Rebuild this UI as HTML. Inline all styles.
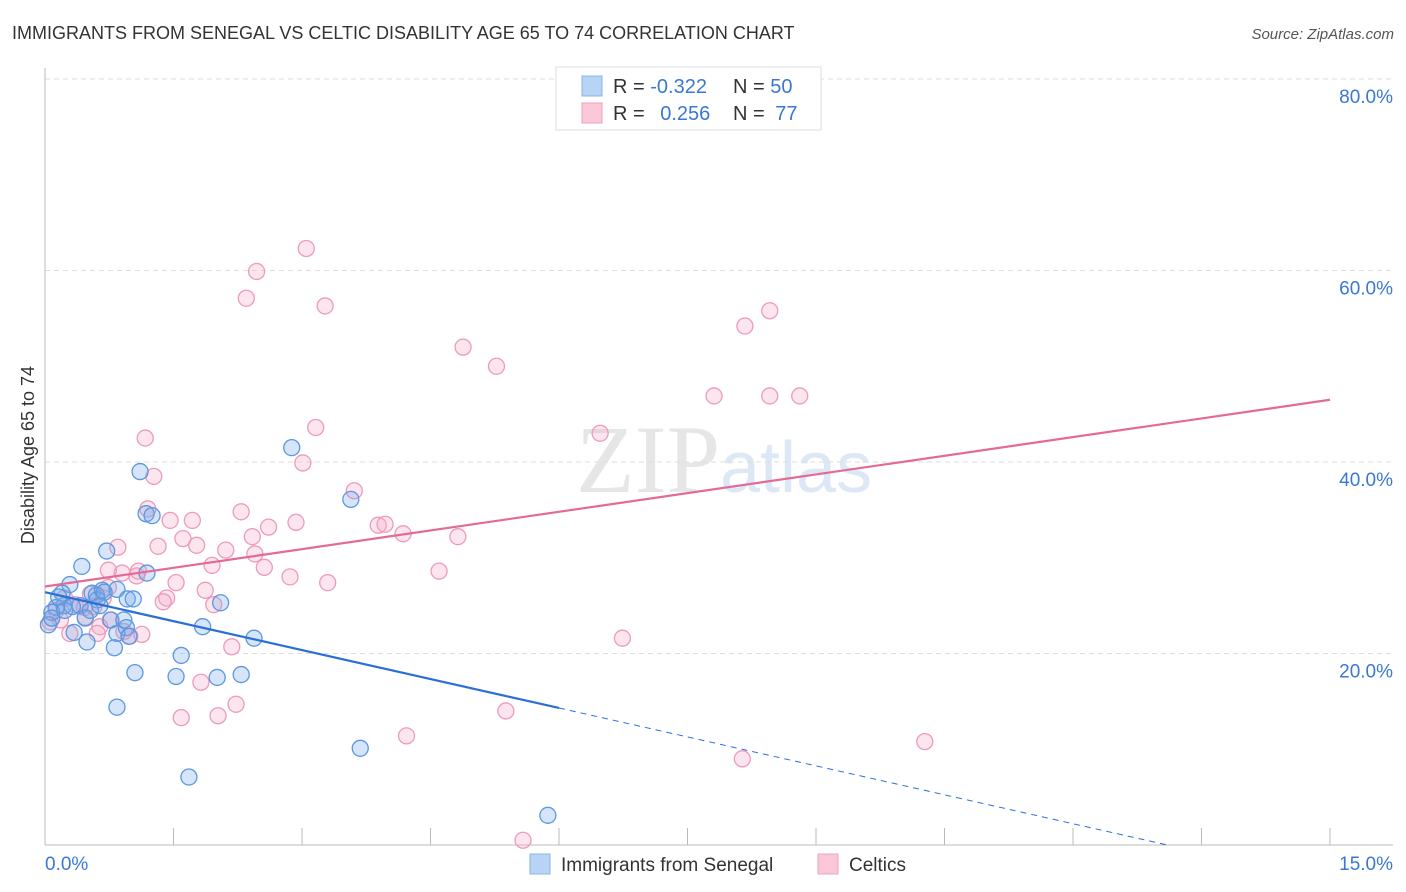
<!DOCTYPE html>
<html><head><meta charset="utf-8"><style>
body{margin:0;background:#fff;font-family:"Liberation Sans",sans-serif;}
svg{display:block}
</style></head><body>
<svg id="chart" width="1406" height="892" xmlns="http://www.w3.org/2000/svg">
<text x="12" y="39" font-size="18" fill="#333">IMMIGRANTS FROM SENEGAL VS CELTIC DISABILITY AGE 65 TO 74 CORRELATION CHART</text>
<text x="1394" y="39" font-size="15" fill="#555" font-style="italic" text-anchor="end">Source: ZipAtlas.com</text>
<text x="720" y="492" font-size="96" fill="#e6e6e6" text-anchor="end" font-family="Liberation Serif">ZIP</text>
<text x="720" y="492" font-size="72" fill="#dce8f5">atlas</text>
<g id="grid"></g>
<g id="axes"></g>
<g id="marks"></g>
<text transform="translate(34,455) rotate(-90)" font-size="18" fill="#333" text-anchor="middle">Disability Age 65 to 74</text>
<g>
<rect x="556" y="67" width="265" height="63" fill="#fff" stroke="#ddd"/>
<rect x="582" y="76" width="20" height="20" fill="#b8d4f5" stroke="#8ab4e8"/>
<rect x="582" y="103" width="20" height="20" fill="#fac8d8" stroke="#eea0bc"/>
<text x="613" y="93" font-size="20" fill="#333">R = <tspan fill="#3a78d4">-0.322</tspan></text>
<text x="733" y="93" font-size="20" fill="#333">N = <tspan fill="#3a78d4">50</tspan></text>
<text x="613" y="120" font-size="20" fill="#333">R = <tspan fill="#3a78d4" dx="10">0.256</tspan></text>
<text x="733" y="120" font-size="20" fill="#333">N = <tspan fill="#3a78d4" dx="5">77</tspan></text>
</g>
<g>
<rect x="530" y="854" width="20" height="20" fill="#b8d4f5" stroke="#8ab4e8"/>
<text x="561" y="871" font-size="19" fill="#333">Immigrants from Senegal</text>
<rect x="818" y="854" width="20" height="20" fill="#fac8d8" stroke="#eea0bc"/>
<text x="849" y="871" font-size="19" fill="#333">Celtics</text>
</g>
</svg>
<script>
const yTicks=[20,40,60,80];
const yTickLabels=["20.0%","40.0%","60.0%","80.0%"];
const xTickVals=[0,1.5,3,4.5,6,7.5,9,10.5,12,13.5,15];
const xEndLabels=["0.0%","15.0%"];
const blueX=[2.88,1.11,3.57,1.18,1.25,0.72,0.43,1.19,0.29,0.20,0.55,0.60,0.67,0.84,0.96,1.03,0.61,0.41,0.22,0.13,0.08,0.04,0.08,0.47,0.77,0.92,2.05,1.84,0.95,0.84,0.98,2.44,0.49,0.81,0.34,1.59,1.05,1.53,2.01,2.29,0.84,1.68,3.68,5.87,0.69,0.23,0.32,0.16,0.53,0.64];
const blueY=[41.5,39.0,36.1,34.6,34.4,30.7,29.1,28.4,27.2,26.3,26.3,26.1,26.6,26.7,25.7,25.7,25.6,25.0,25.0,24.8,24.3,23.0,23.7,23.7,23.5,23.5,25.3,22.8,22.7,22.1,21.8,21.6,21.2,20.6,22.2,19.8,18.0,17.6,17.5,17.8,14.4,7.1,10.1,3.1,26.4,24.5,24.9,25.9,24.5,25.0];
const pinkX=[3.05,2.47,2.35,3.27,4.88,5.27,8.46,8.17,7.81,8.46,8.81,1.17,1.27,3.16,3.01,6.48,1.20,1.46,1.72,2.29,2.93,3.61,2.61,3.89,3.97,4.18,4.82,0.85,1.32,1.61,1.77,2.11,2.42,2.45,2.56,2.86,3.30,4.60,0.90,1.07,1.53,1.95,1.87,0.74,0.53,0.68,1.42,1.38,1.97,0.76,0.57,0.47,0.29,0.64,0.99,1.13,2.18,6.74,1.82,1.59,2.02,2.23,5.38,4.22,8.14,10.27,5.58,0.18,0.06,0.13,0.35,0.23,0.92,0.46,0.61,1.09,0.74];
const pinkY=[62.3,59.9,57.1,56.3,52.0,50.0,55.8,54.2,46.9,46.9,46.9,42.5,38.5,43.6,39.9,43.0,35.1,33.9,33.9,34.8,33.7,37.0,33.2,33.4,33.5,32.5,32.2,31.1,31.2,32.0,31.3,30.8,32.2,30.4,29.0,28.0,27.4,28.6,28.4,28.1,27.4,29.2,26.6,26.9,26.2,25.8,25.8,25.4,25.1,23.5,24.9,23.8,22.1,22.8,21.8,22.0,20.7,21.6,17.0,13.3,13.5,14.7,14.0,11.4,9.0,10.8,0.5,23.5,23.3,24.5,25.1,25.8,22.3,24.8,22.1,28.6,28.7];
const blueTrend=[26.4,-2.015];
const blueSolidEnd=6.0;
const pinkTrend=[27.0,1.3];

const NS="http://www.w3.org/2000/svg";
const X0=45,X1=1330,Y0=845,Y80=79;
const sx=v=>X0+(X1-X0)*v/15;
const sy=v=>Y0-(Y0-Y80)*v/80;
function mk(tag,attrs,parent){const e=document.createElementNS(NS,tag);for(const k in attrs)e.setAttribute(k,attrs[k]);parent.appendChild(e);return e;}
const grid=document.getElementById('grid'),axes=document.getElementById('axes'),marks=document.getElementById('marks');
yTicks.forEach((t,i)=>{
  const l=mk('line',{x1:X0,x2:1393,y1:sy(t),y2:sy(t),stroke:'#ddd','stroke-dasharray':'5,4'},grid);
  
  
  const tx=mk('text',{x:1393,y:sy(t)+24,'font-size':19,fill:'#3a78d4','text-anchor':'end'},axes);
  tx.textContent=yTickLabels[i];
  
  
});
const ya=mk('line',{x1:X0,x2:X0,y1:68,y2:Y0,stroke:'#bbb'},axes);


const xa=mk('line',{x1:X0,x2:1393,y1:Y0,y2:Y0,stroke:'#bbb'},axes);


xTickVals.forEach(v=>{
  const t=mk('line',{x1:sx(v),x2:sx(v),y1:Y0,y2:Y0-17,stroke:'#bbb'},axes);
  
  
});
[[0,'start',45],[15,'end',1393]].forEach((a,i)=>{
  const tx=mk('text',{x:a[2],y:870,'font-size':19,fill:'#3a78d4','text-anchor':a[1]},axes);
  tx.textContent=xEndLabels[i];
  
  
});
function pts(xs,ys,fill,stroke,name){xs.forEach((x,i)=>{
  const c=mk('circle',{cx:sx(x),cy:sy(ys[i]),r:8,fill:fill,stroke:stroke,'stroke-width':1.3},marks);
  
  
});}
pts(pinkX,pinkY,'rgba(245,170,198,0.3)','#ec9bb8','celtics-point');
pts(blueX,blueY,'rgba(120,170,235,0.3)','#5a98e0','senegal-point');
const by=x=>blueTrend[0]+blueTrend[1]*x;
const bzero=-blueTrend[0]/blueTrend[1];
const l1=mk('line',{x1:sx(0),y1:sy(by(0)),x2:sx(blueSolidEnd),y2:sy(by(blueSolidEnd)),stroke:'#2a6fd6','stroke-width':2.2},marks);


const l2=mk('line',{x1:sx(blueSolidEnd),y1:sy(by(blueSolidEnd)),x2:sx(bzero),y2:sy(0),stroke:'#2a6fd6','stroke-width':1,'stroke-dasharray':'6,5'},marks);


const py=x=>pinkTrend[0]+pinkTrend[1]*x;
const l3=mk('line',{x1:sx(0),y1:sy(py(0)),x2:sx(15),y2:sy(py(15)),stroke:'#e46a96','stroke-width':2.2},marks);


</script>
</body></html>
